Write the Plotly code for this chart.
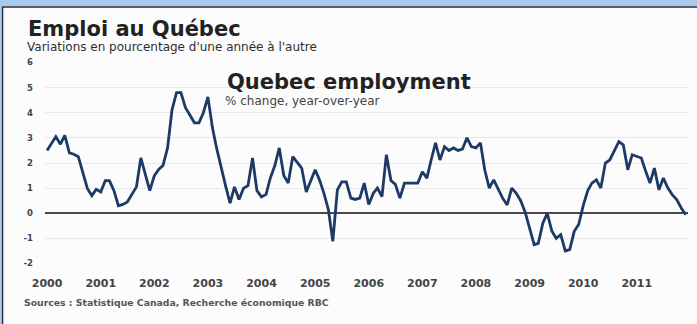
import pandas as pd
import plotly.graph_objects as go

# Year-over-year % change in Quebec employment, monthly, Jan 2000 - Dec 2011
emp_2000 = [2.5, 2.8, 3.05, 2.75, 3.1, 2.4, 2.35, 2.25, 1.6, 1.0, 0.7, 0.95]
emp_2001 = [0.85, 1.3, 1.3, 0.9, 0.3, 0.35, 0.45, 0.75, 1.05, 2.2, 1.5, 0.9]
emp_2002 = [1.5, 1.75, 1.9, 2.6, 4.1, 4.8, 4.8, 4.2, 3.9, 3.6, 3.6, 4.0]
emp_2003 = [4.63, 3.4, 2.6, 1.8, 1.1, 0.4, 1.05, 0.55, 1.0, 1.1, 2.2, 0.9]
emp_2004 = [0.65, 0.75, 1.4, 1.9, 2.6, 1.5, 1.2, 2.25, 2.0, 1.8, 0.85, 1.3]
emp_2005 = [1.73, 1.3, 0.8, 0.14, -1.12, 0.93, 1.25, 1.25, 0.6, 0.55, 0.6, 1.2]
emp_2006 = [0.35, 0.8, 1.0, 0.66, 2.33, 1.3, 1.15, 0.6, 1.2, 1.2, 1.2, 1.2]
emp_2007 = [1.65, 1.4, 2.1, 2.8, 2.12, 2.65, 2.5, 2.6, 2.5, 2.55, 3.0, 2.65]
emp_2008 = [2.6, 2.8, 1.73, 1.0, 1.33, 0.93, 0.6, 0.33, 1.0, 0.8, 0.5, 0.05]
emp_2009 = [-0.6, -1.25, -1.2, -0.4, 0.0, -0.7, -1.0, -0.85, -1.5, -1.45, -0.72, -0.45]
emp_2010 = [0.3, 0.9, 1.2, 1.33, 1.0, 2.0, 2.12, 2.5, 2.85, 2.72, 1.73, 2.33]
emp_2011 = [2.25, 2.2, 1.7, 1.2, 1.8, 0.93, 1.4, 1.0, 0.73, 0.53, 0.2, -0.06]

years = [str(y) for y in range(2000, 2012)]
y_ticks = [6, 5, 4, 3, 2, 1, 0, -1, -2]

values = (emp_2000 + emp_2001 + emp_2002 + emp_2003 + emp_2004 + emp_2005
          + emp_2006 + emp_2007 + emp_2008 + emp_2009 + emp_2010 + emp_2011)
months = pd.date_range("2000-01-01", periods=len(values), freq="MS")

W, H = 697, 324
L, R, T, B = 45, 9, 62, 60
PW, PH = W - L - R, H - T - B


def px(xp):
    return (xp - L) / PW


def py(yp):
    return (H - B - yp) / PH


fig = go.Figure()
fig.add_trace(go.Scatter(
    x=months, y=values, mode="lines",
    line=dict(color="#1d3a66", width=2.8),
    hoverinfo="skip", showlegend=False,
))

annotations = [
    dict(text="<b>Emploi au Québec</b>", x=px(26), y=py(29), xanchor="left", yanchor="middle",
         font=dict(family="DejaVu Sans", size=21, color="#222222")),
    dict(text="Variations en pourcentage d'une année à l'autre", x=px(25), y=py(47),
         xanchor="left", yanchor="middle",
         font=dict(family="DejaVu Sans", size=12, color="#2e2e2e")),
    dict(text="<b>Quebec employment</b>", x=px(225), y=py(82), xanchor="left", yanchor="middle",
         font=dict(family="DejaVu Sans", size=21, color="#222222")),
    dict(text="% change, year-over-year", x=px(223), y=py(101), xanchor="left", yanchor="middle",
         font=dict(family="DejaVu Sans", size=12, color="#444444")),
    dict(text="<b>Sources : Statistique Canada, Recherche économique RBC</b>", x=px(22), y=py(302),
         xanchor="left", yanchor="middle",
         font=dict(family="DejaVu Sans", size=9.3, color="#555555")),
]
for a in annotations:
    a.update(xref="paper", yref="paper", showarrow=False)

shapes = [
    # light blue band across the top and down the left edge
    dict(type="rect", xref="paper", yref="paper", x0=px(0), x1=px(W), y0=py(0), y1=py(6.5),
         fillcolor="#a9c9ee", line=dict(width=0), layer="below"),
    dict(type="rect", xref="paper", yref="paper", x0=px(0), x1=px(2), y0=py(0), y1=py(H),
         fillcolor="#a9c9ee", line=dict(width=0), layer="below"),
    # dark frame lines
    dict(type="line", xref="paper", yref="paper", x0=px(2), x1=px(W), y0=py(7), y1=py(7),
         line=dict(color="#2a2f38", width=1.6)),
    dict(type="line", xref="paper", yref="paper", x0=px(2.6), x1=px(2.6), y0=py(7), y1=py(H),
         line=dict(color="#2a2f38", width=1.4)),
]

fig.update_layout(
    width=W, height=H,
    margin=dict(l=L, r=R, t=T, b=B, pad=0),
    paper_bgcolor="#fcfcfc", plot_bgcolor="#fcfcfc",
    annotations=annotations, shapes=shapes,
    xaxis=dict(
        range=["1999-12-18", "2011-12-16"],
        tickvals=[f"{y}-01-01" for y in years], ticktext=[f"<b>{y}</b>" for y in years],
        showgrid=False, zeroline=False, showline=False, ticks="",
        ticklabelstandoff=11,
        tickfont=dict(family="DejaVu Sans", size=11, color="#444444"),
    ),
    yaxis=dict(
        range=[-2.02, 6.02],
        tickvals=y_ticks, ticktext=[f"<b>{v}</b>" for v in y_ticks],
        showgrid=True, gridcolor="#e9e9e9", gridwidth=1,
        zeroline=True, zerolinecolor="#4a4a4a", zerolinewidth=1.6,
        showline=False, ticks="", ticklabelstandoff=11,
        tickfont=dict(family="DejaVu Sans", size=8.5, color="#444444"),
    ),
)

fig.write_html("out.html")
